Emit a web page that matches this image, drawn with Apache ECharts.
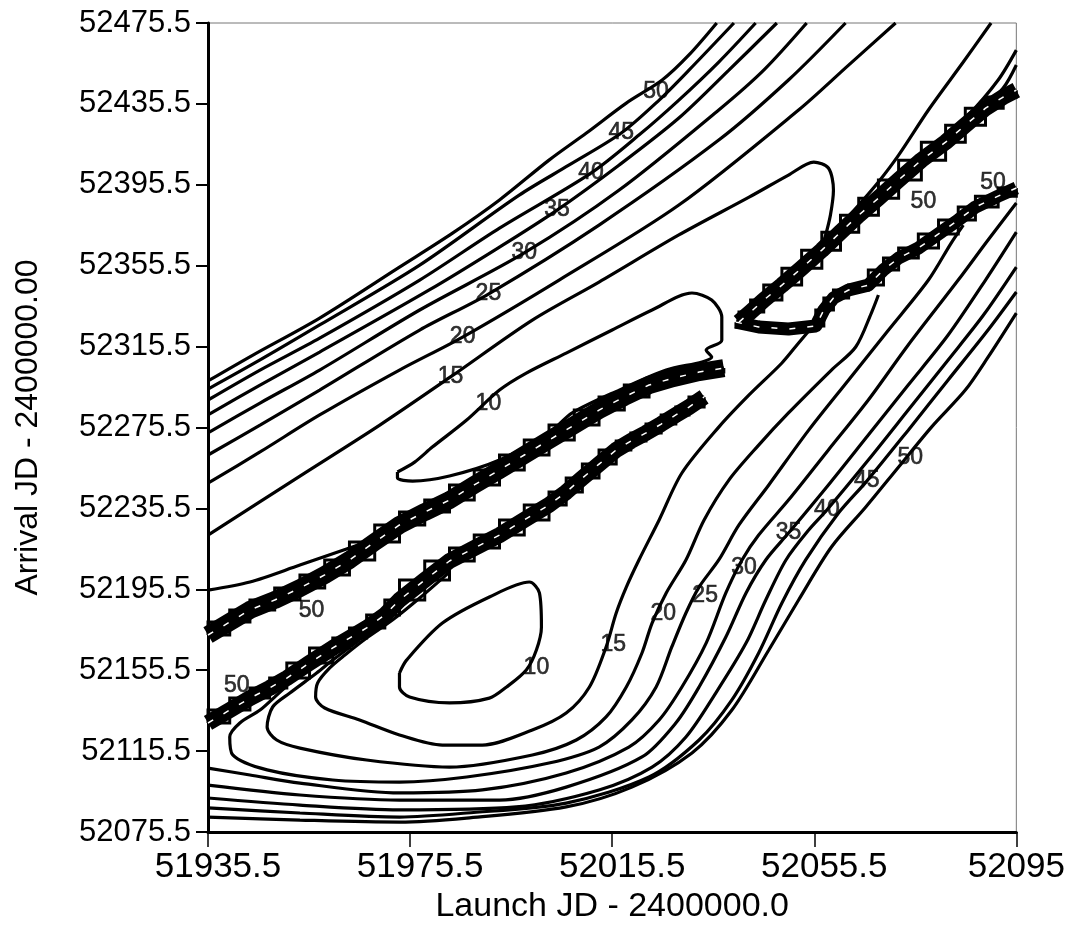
<!DOCTYPE html>
<html><head><meta charset="utf-8">
<script src="https://cdn.jsdelivr.net/npm/echarts@6/dist/echarts.min.js"></script>
<style>html,body{margin:0;padding:0;background:#fff}#c{width:1068px;height:936px}</style>
</head><body><div id="c"></div>
<script>
// Tick values
const xTicks = [51935.5, 51975.5, 52015.5, 52055.5, 52095.5];
const yTicks = [52075.5, 52115.5, 52155.5, 52195.5, 52235.5, 52275.5, 52315.5, 52355.5, 52395.5, 52435.5, 52475.5];

// Upper-left family of contours [launch, arrival]
const c50a = [[51935.5,52298.5],[51944.4,52311.3],[51957.6,52329.6],[51973.4,52354.8],[51983.9,52371.6],[51993.2,52388.0],[52003.0,52407.7],[52010.4,52421.1],[52018.3,52435.9],[52025.4,52447.3],[52030.7,52459.7],[52036.2,52475.5]];
const c45a = [[51935.5,52294.5],[51945.8,52308.9],[51957.6,52326.2],[51977.4,52355.8],[51997.1,52390.4],[52007.0,52405.3],[52017.3,52421.1],[52024.8,52437.4],[52030.7,52452.2],[52039.6,52475.5]];
const c40a = [[51935.5,52289.1],[51945.8,52303.9],[51957.6,52319.7],[51977.4,52348.4],[51993.2,52374.1],[52011.3,52401.3],[52020.8,52420.1],[52028.7,52437.4],[52036.6,52456.2],[52043.9,52475.5]];
const c35a = [[51935.5,52281.7],[51945.8,52296.5],[51957.6,52312.8],[51979.3,52343.5],[51993.2,52364.7],[52004.6,52383.0],[52016.9,52405.3],[52028.7,52428.5],[52038.6,52452.2],[52048.1,52475.5]];
const c30a = [[51935.5,52272.8],[51945.8,52287.6],[51957.6,52303.9],[51977.4,52333.6],[51998.1,52361.8],[52016.9,52392.9],[52036.6,52432.5],[52045.5,52452.2],[52054.0,52475.5]];
const c25a = [[51935.5,52261.9],[51945.8,52276.7],[51957.6,52294.0],[51977.4,52323.7],[51991.0,52341.5],[52012.9,52375.6],[52036.6,52417.6],[52050.4,52447.3],[52061.7,52475.5]];
const c20a = [[51935.5,52248.0],[51945.8,52263.4],[51957.6,52281.7],[51973.4,52303.9],[51985.9,52320.2],[52005.0,52348.4],[52028.7,52385.5],[52052.4,52432.5],[52062.3,52454.7],[52071.6,52475.5]];
const c15a = [[51935.5,52222.3],[51953.7,52251.5],[51969.5,52276.7],[51983.5,52300.5],[51999.7,52328.6],[52012.9,52347.4],[52028.7,52370.7],[52042.6,52389.4],[52050.4,52400.3],[52055.4,52406.7],[52058.3,52403.8],[52059.3,52392.9],[52058.7,52380.5],[52057.6,52369.2]];
const c10a = [[51973.0,52253.5],[51976.4,52258.4],[51979.9,52265.8],[51986.7,52279.2],[51993.2,52294.0],[51998.5,52302.4],[52006.4,52312.3],[52015.5,52323.7],[52023.4,52333.6],[52031.3,52342.0],[52035.2,52338.5],[52037.2,52330.1],[52037.2,52318.7],[52034.1,52313.8],[52035.2,52310.3],[52033.3,52307.9],[52026.2,52303.9],[52016.9,52294.0],[52007.6,52282.7],[52003.0,52272.8],[51993.2,52259.4],[51983.3,52251.5],[51976.0,52249.0],[51973.0,52250.5],[51973.0,52253.5]];
const c20r = [[52090.5,52475.5],[52085.0,52456.2],[52078.1,52432.5],[52072.2,52410.2],[52068.2,52396.9],[52064.3,52385.5],[52061.3,52377.1]];
const fanC1 = [[52078.1,52411.7],[52086.0,52430.0],[52091.9,52447.3],[52095.5,52462.1]];
const fanC2 = [[52079.1,52410.2],[52087.0,52428.5],[52092.9,52443.3],[52095.5,52454.7]];
const edgeA = [[51935.5,52195.1],[51943.8,52199.1],[51953.7,52207.5],[51963.5,52215.9],[51972.0,52223.3],[51977.4,52229.8]];

// Discontinuity bands (bunched contours)
const bandA = [[51935.5,52172.9],[51939.8,52179.3],[51943.8,52185.3],[51948.7,52190.2],[51953.7,52196.1],[51958.6,52202.6],[51963.5,52210.0],[51968.5,52218.9],[51973.4,52227.3],[51978.4,52233.7],[51983.3,52239.6],[51988.2,52247.1],[51993.2,52254.5],[51998.1,52261.9],[52003.0,52269.3],[52008.0,52276.7],[52012.9,52284.1],[52017.9,52290.6],[52022.8,52296.5],[52027.7,52300.0],[52032.7,52302.9],[52037.6,52304.9]];
const bandB = [[51935.5,52129.4],[51939.8,52135.8],[51943.8,52141.7],[51947.7,52146.7],[51951.1,52151.6],[51955.6,52159.1],[51960.2,52166.5],[51963.5,52171.4],[51966.9,52176.4],[51970.5,52182.8],[51973.4,52190.2],[51978.4,52200.1],[51983.3,52209.5],[51988.2,52215.9],[51993.2,52222.3],[51998.1,52229.8],[52003.0,52237.2],[52006.4,52243.6],[52009.6,52250.5],[52012.9,52257.4],[52016.3,52264.4],[52019.2,52268.8],[52022.2,52272.8],[52025.2,52277.2],[52028.1,52281.7],[52030.7,52285.6],[52033.7,52290.6]];
const bandC = [[52040.6,52327.6],[52042.9,52332.6],[52045.5,52338.5],[52049.1,52345.9],[52053.0,52354.3],[52057.0,52363.2],[52060.7,52372.1],[52064.3,52380.5],[52068.2,52388.9],[52072.2,52397.9],[52076.7,52407.7],[52081.5,52416.6],[52085.4,52425.0],[52089.4,52433.4],[52092.9,52438.9],[52095.5,52442.3]];
const bandD = [[52040.0,52327.6],[52044.5,52325.2],[52050.4,52324.2],[52055.8,52325.7],[52057.4,52333.6],[52059.3,52339.5],[52062.3,52343.5],[52066.2,52345.9],[52069.2,52353.4],[52072.2,52359.3],[52076.1,52364.2],[52080.1,52371.2],[52084.0,52378.1],[52087.4,52384.5],[52091.9,52389.9],[52095.5,52393.9]];

// Lower-right family
const c10b = [[51973.4,52154.1],[51974.8,52160.5],[51981.9,52178.8],[51991.2,52191.7],[51999.1,52199.1],[52001.1,52193.7],[52001.5,52176.9],[52000.5,52165.5],[51998.5,52155.6],[51994.6,52147.2],[51991.2,52141.7],[51983.3,52139.3],[51975.4,52142.2],[51973.4,52147.2],[51973.4,52154.1]];
const c15b = [[51983.3,52204.0],[51977.4,52191.2],[51972.0,52180.3],[51966.9,52171.4],[51962.6,52163.0],[51959.6,52156.6],[51957.2,52149.2],[51956.8,52142.2],[51958.6,52136.8],[51965.5,52130.9],[51973.4,52123.5],[51981.9,52118.5],[51989.8,52118.5],[51999.7,52125.9],[52006.4,52134.3],[52011.0,52147.2],[52014.3,52167.0],[52016.3,52183.8],[52018.3,52196.6],[52020.8,52210.0],[52024.8,52229.8],[52029.3,52253.0],[52036.6,52275.7],[52042.6,52291.6],[52049.1,52307.4],[52052.4,52317.3],[52055.4,52326.2]];
const c20b = [[51965.5,52170.4],[51960.2,52160.5],[51957.0,52154.1],[51951.7,52144.2],[51948.3,52137.3],[51947.2,52127.4],[51949.1,52121.0],[51953.7,52117.0],[51966.9,52111.1],[51983.3,52107.6],[51999.7,52113.6],[52008.4,52121.0],[52014.3,52132.4],[52018.3,52147.2],[52021.4,52164.0],[52023.4,52178.8],[52026.2,52193.7],[52030.1,52210.0],[52033.7,52229.8],[52038.6,52249.5],[52044.5,52266.8],[52050.4,52282.7],[52058.9,52303.9],[52063.7,52315.3],[52066.8,52332.1],[52068.2,52341.0]];
const c25b = [[51951.1,52147.7],[51949.1,52143.2],[51945.8,52135.8],[51941.8,52129.4],[51939.8,52122.5],[51940.4,52113.6],[51947.2,52106.2],[51960.2,52101.2],[51973.4,52100.2],[51986.7,52102.7],[52003.0,52109.6],[52012.9,52117.5],[52019.4,52130.9],[52024.2,52147.2],[52027.3,52167.0],[52030.1,52183.8],[52032.7,52196.6],[52036.6,52210.0],[52040.6,52227.3],[52046.5,52247.1],[52054.4,52274.2],[52062.3,52299.0],[52070.2,52323.7],[52078.1,52348.4],[52082.6,52366.7],[52085.0,52375.6]];
const c30b = [[51935.5,52107.1],[51943.8,52103.7],[51953.7,52099.7],[51973.4,52094.8],[51989.8,52096.3],[52006.4,52104.7],[52018.8,52117.5],[52024.8,52130.9],[52029.3,52147.2],[52034.1,52168.9],[52038.0,52193.7],[52041.2,52210.0],[52044.5,52222.3],[52050.4,52239.6],[52058.3,52264.4],[52066.2,52289.1],[52074.1,52316.3],[52084.0,52348.4],[52089.9,52368.2],[52095.5,52386.5]];
const c35b = [[51935.5,52098.7],[51953.7,52093.8],[51973.4,52091.3],[51993.2,52091.3],[52006.4,52097.7],[52021.4,52112.6],[52028.1,52129.4],[52032.7,52147.2],[52038.0,52171.9],[52042.0,52193.7],[52045.9,52210.0],[52050.4,52223.3],[52058.3,52247.1],[52066.2,52271.8],[52074.1,52296.5],[52082.0,52321.2],[52089.4,52348.4],[52095.5,52372.1]];
const c40b = [[51935.5,52092.3],[51953.7,52088.8],[51973.4,52086.4],[51996.5,52087.9],[52012.9,52096.3],[52023.4,52107.6],[52030.1,52122.5],[52036.0,52144.2],[52042.0,52168.9],[52045.9,52190.2],[52049.9,52210.0],[52054.4,52224.8],[52058.0,52234.7],[52066.2,52259.4],[52074.1,52284.1],[52082.0,52308.9],[52089.0,52331.1],[52095.5,52354.8]];
const c45b = [[51935.5,52087.4],[51953.7,52084.9],[51973.4,52082.9],[51986.7,52084.9],[52006.4,52089.8],[52022.8,52102.7],[52032.7,52121.0],[52039.2,52140.8],[52044.5,52164.0],[52049.1,52188.7],[52053.8,52210.0],[52060.3,52233.2],[52065.9,52249.0],[52074.1,52274.2],[52082.0,52299.0],[52089.9,52323.7],[52095.5,52342.5]];
const c50b = [[51935.5,52082.9],[51953.7,52081.4],[51973.4,52080.4],[51986.7,52082.4],[52006.4,52087.9],[52019.4,52097.7],[52031.3,52114.6],[52039.2,52135.8],[52046.5,52165.5],[52052.4,52190.2],[52058.9,52216.4],[52065.7,52236.2],[52072.2,52256.0],[52078.7,52275.7],[52085.4,52294.0],[52089.9,52310.3],[52095.5,52332.1]];

// Contour labels [launch, arrival, level]
const labelPts = [[52024.2,52441.4,50],[52017.3,52421.1,45],[52011.3,52401.3,40],[52004.6,52383.0,35],[51998.1,52361.8,30],[51991.0,52341.5,25],[51985.9,52320.2,20],[51983.5,52300.5,15],[51991.0,52287.1,10],[51956.0,52184.8,50],[51941.2,52147.7,50],[52000.5,52156.6,10],[52015.7,52168.0,15],[52025.6,52183.3,20],[52033.9,52192.2,25],[52041.6,52206.0,30],[52050.4,52223.3,35],[52058.0,52234.7,40],[52065.9,52249.0,45],[52074.5,52260.4,50],[52077.1,52387.0,50],[52090.9,52396.4,50]];

const FONT = "'Liberation Sans', Arial, Helvetica, sans-serif";
const smoothLines = [c50a,c45a,c40a,c35a,c30a,c25a,c20a,c15a,c10a,c20r,fanC1,fanC2,edgeA,c10b,c15b,c20b,c25b,c30b,c35b,c40b,c45b,c50b];
const bands = [[bandA,18],[bandB,16],[bandC,16],[bandD,13]];

const series = [];
smoothLines.forEach(d => series.push({type:'line', data:d, symbol:'none', smooth:0.3, silent:true, z:2,
  lineStyle:{color:'#000', width:3.2}}));
bands.forEach(([d,w]) => {
  series.push({type:'line', data:d, symbol:'none', silent:true, z:3,
    lineStyle:{color:'#000', width:w, join:'round', cap:'butt'}});
  ['start','end'].forEach(st => series.push({type:'line', data:d, symbol:'none', step:st, silent:true, z:3,
    lineStyle:{color:'#000', width:3, join:'miter'}}));
  series.push({type:'line', data:d, symbol:'none', silent:true, z:4,
    lineStyle:{color:'#fff', width:1.5, type:[6,12]}});
});
series.push({type:'scatter', data:labelPts, symbolSize:1, silent:true, z:6,
  itemStyle:{color:'rgba(0,0,0,0)'},
  label:{show:true, position:'inside', formatter:p=>String(p.value[2]), fontSize:23, fontFamily:FONT,
    color:'#000', textBorderColor:'#000', textBorderWidth:0.6, fontWeight:'normal'}});

const chart = echarts.init(document.getElementById('c'), null, {renderer:'canvas'});
chart.setOption({
  animation:false,
  backgroundColor:'#fff',
  grid:{left:208, right:50, top:23, bottom:104, show:true, borderColor:'#777', borderWidth:1},
  xAxis:{type:'value', min:xTicks[0], max:xTicks[xTicks.length-1], interval:xTicks[1]-xTicks[0],
    axisLine:{show:true, lineStyle:{color:'#000', width:3}},
    axisTick:{show:true, length:15, lineStyle:{color:'#000', width:1.5}},
    splitLine:{show:false},
    axisLabel:{show:true, showMinLabel:true, showMaxLabel:true, margin:18, fontSize:35, fontFamily:FONT, color:'#000',
      formatter:v => Math.abs(v - xTicks[xTicks.length-1]) < 1e-6 ? '52095' : '{a|' + v.toFixed(1) + '}',
      rich:{a:{fontSize:35, fontFamily:FONT, color:'#000', padding:[0,0,0,20]}}},
    name:'Launch JD - 2400000.0', nameLocation:'middle', nameGap:58,
    nameTextStyle:{fontSize:34, fontFamily:FONT, color:'#000'}},
  yAxis:{type:'value', min:yTicks[0], max:yTicks[yTicks.length-1], interval:yTicks[1]-yTicks[0],
    axisLine:{show:true, lineStyle:{color:'#000', width:3}},
    axisTick:{show:true, length:12, lineStyle:{color:'#000', width:2}},
    splitLine:{show:false},
    axisLabel:{show:true, showMinLabel:true, showMaxLabel:true, margin:17, fontSize:31, fontFamily:FONT, color:'#000',
      formatter:v => v.toFixed(1)},
    name:'Arrival JD - 2400000.00', nameLocation:'middle', nameGap:164,
    nameTextStyle:{fontSize:32, fontFamily:FONT, color:'#000'}},
  series:series
});
</script>
</body></html>
